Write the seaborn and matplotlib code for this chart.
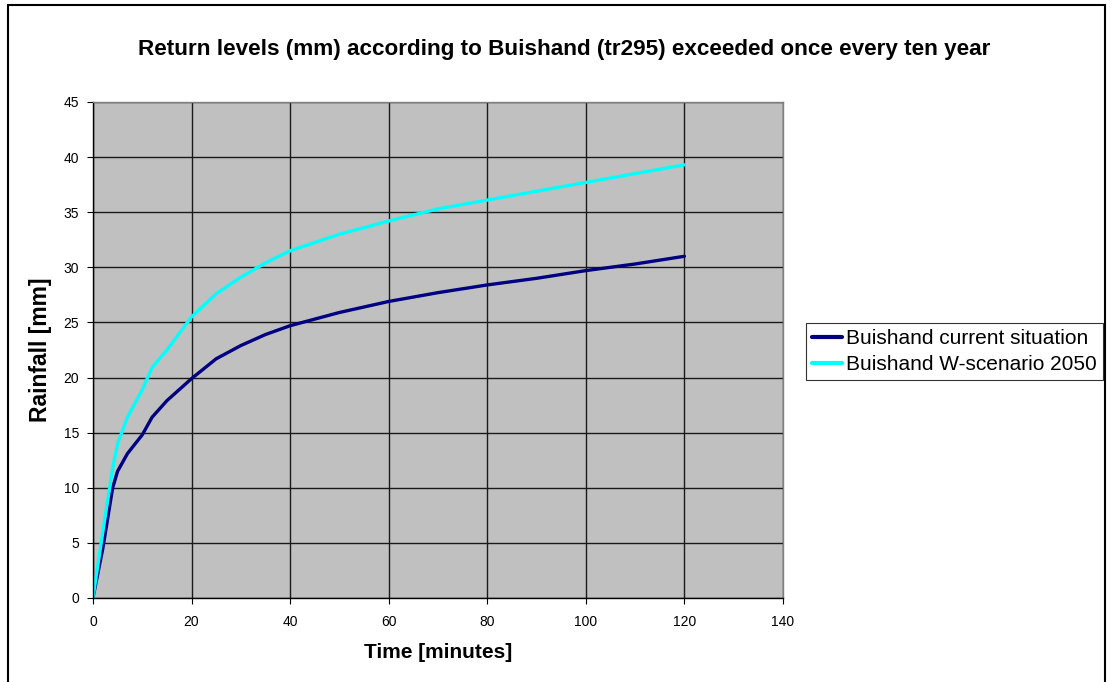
import matplotlib
matplotlib.use("Agg")
import matplotlib.pyplot as plt
import seaborn as sns
import pandas as pd
from matplotlib.patches import Rectangle

# Rainfall return levels (mm) per duration (minutes)
minutes = [0, 2, 4, 5, 7, 10, 12, 15, 20, 25, 30, 35, 40, 50, 60, 70, 80, 90, 100, 110, 120]
current = [0, 4.5, 10.0, 11.5, 13.1, 14.8, 16.4, 17.9, 19.9, 21.7, 22.9, 23.9, 24.7,
           25.9, 26.9, 27.7, 28.4, 29.0, 29.7, 30.3, 31.0]
w2050 = [0, 6.0, 11.8, 14.0, 16.4, 18.9, 20.9, 22.5, 25.5, 27.6, 29.1, 30.4, 31.5,
         33.0, 34.2, 35.3, 36.1, 36.9, 37.7, 38.5, 39.3]
series_names = ["Buishand current situation", "Buishand W-scenario 2050"]
series_colors = ["#000080", "#00FFFF"]

x_ticks = list(range(0, 141, 20))
y_ticks = list(range(0, 46, 5))

df = pd.concat([
    pd.DataFrame({"t": minutes, "mm": current, "series": series_names[0]}),
    pd.DataFrame({"t": minutes, "mm": w2050, "series": series_names[1]}),
])

sns.set_style("white")
plt.rcParams["font.family"] = ["Liberation Sans", "DejaVu Sans"]
plt.rcParams["text.color"] = "black"
plt.rcParams["axes.labelcolor"] = "black"
plt.rcParams["xtick.color"] = "black"
plt.rcParams["ytick.color"] = "black"

fig = plt.figure(figsize=(11.12, 6.82), dpi=100)
ax = fig.add_axes([0.0836, 0.1232, 0.6205, 0.7273])
ax.set_facecolor("#C0C0C0")

sns.lineplot(data=df, x="t", y="mm", hue="series", palette=series_colors,
             hue_order=series_names, linewidth=2.4, ax=ax, legend=False,
             solid_capstyle="round", solid_joinstyle="round")

ax.set_xlim(0, 140)
ax.set_ylim(0, 45)
ax.set_xticks(x_ticks)
ax.set_yticks(y_ticks)
ax.tick_params(axis="both", labelsize=10, direction="out", length=4,
               width=0.8, color="black", left=True, bottom=True)
ax.tick_params(axis="x", pad=8)
ax.tick_params(axis="y", pad=6)
ax.grid(True, color="#1a1a1a", linewidth=1.0)
ax.set_axisbelow(True)
for side in ["left", "bottom"]:
    ax.spines[side].set_color("black")
    ax.spines[side].set_linewidth(1.0)
for side in ["top", "right"]:
    ax.spines[side].set_color("#808080")
    ax.spines[side].set_linewidth(1.0)

ax.set_xlabel("Time [minutes]", fontsize=15, fontweight="bold", labelpad=10)
ax.set_ylabel("Rainfall [mm]", fontsize=16.5, fontweight="bold", labelpad=8)

fig.text(0.507, 0.928, "Return levels (mm) according to Buishand (tr295) exceeded once every ten year",
         ha="center", va="center", fontsize=16.2, fontweight="bold")

handles = [plt.Line2D([], [], color=c, linewidth=3) for c in series_colors]
leg = fig.legend(handles, series_names, loc="center left",
                 bbox_to_anchor=(0.7245, 0.4846), fontsize=15, frameon=True,
                 fancybox=False, borderpad=0.3, handlelength=1.45,
                 handletextpad=0.2, labelspacing=0.35, borderaxespad=0)
leg.get_frame().set_edgecolor("black")
leg.get_frame().set_linewidth(0.8)

# outer chart border
fig.patches.append(Rectangle((0.0072, -0.05), 0.9865, 1.043, transform=fig.transFigure,
                             fill=False, edgecolor="black", linewidth=1.5))

fig.savefig("out.png", dpi=100)
